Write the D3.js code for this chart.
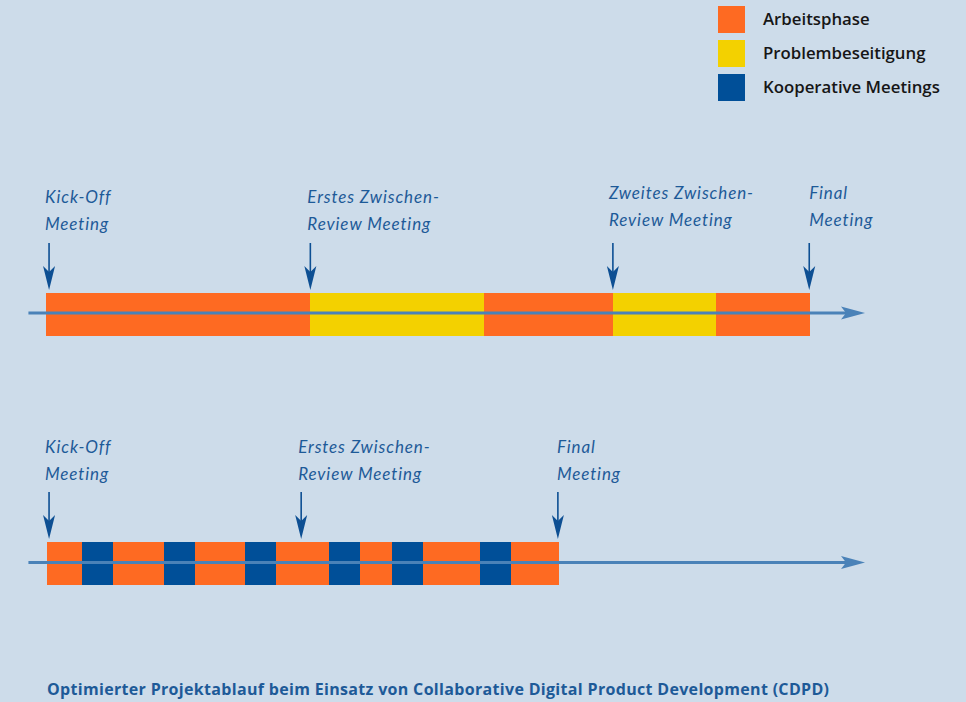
<!DOCTYPE html>
<html><head><meta charset="utf-8">
<script src="https://cdn.jsdelivr.net/npm/d3@7"></script>
<style>
html,body{margin:0;padding:0;background:#cddcea;}
svg{display:block;}
</style></head>
<body>
<svg id="chart" width="966" height="702"></svg>
<script>
// ---- data (time units along the project axis) ----
const legendItems = ["Arbeitsphase", "Problembeseitigung", "Kooperative Meetings"];
const legendKeys = ["work", "fix", "meet"];

// conventional process
const topPhases = ["work", "fix", "work", "fix", "work"];
const topBounds = [0, 34.6, 57.3, 74.2, 87.7, 100];
const topMilestones = [0.4, 34.6, 74.2, 99.9];
const topLabels = [["Kick-Off", "Meeting"], ["Erstes Zwischen-", "Review Meeting"], ["Zweites Zwischen-", "Review Meeting"], ["Final", "Meeting"]];

// CDPD process
const bottomPhases = ["work", "meet", "work", "meet", "work", "meet", "work", "meet", "work", "meet", "work", "meet", "work"];
const bottomBounds = [0.1, 4.7, 8.8, 15.4, 19.5, 26.0, 30.1, 37.0, 41.1, 45.3, 49.3, 56.8, 60.9, 67.1];
const bottomMilestones = [0.4, 33.4, 67.0];
const bottomLabels = [["Kick-Off", "Meeting"], ["Erstes Zwischen-", "Review Meeting"], ["Final", "Meeting"]];

const axisDomain = [-2.3, 107.2];
const title = "Optimierter Projektablauf beim Einsatz von Collaborative Digital Product Development (CDPD)";

// ---- styling ----
const colors = {work: "#fe6a22", fix: "#f3d100", meet: "#004f98"};
const axisColor = "#4a82b8";
const labelColor = "#1d5a98";
const arrowColor = "#0d4f93";

const svg = d3.select("#chart");
const x = d3.scaleLinear().domain([0, 100]).range([46, 810]);
const color = d3.scaleOrdinal().domain(legendKeys).range(legendKeys.map(k => colors[k]));

// legend
const leg = svg.append("g");
const ly = d3.scalePoint().domain(legendItems).range([19.5, 87.5]);
legendItems.forEach((name, i) => {
  leg.append("rect").attr("x", 718).attr("y", ly(name) - 13.5).attr("width", 27).attr("height", 27)
    .attr("fill", color(legendKeys[i]));
  leg.append("text").attr("x", 763).attr("y", ly(name) + 5.5)
    .attr("font-family", "'Open Sans', sans-serif").attr("font-weight", 600).attr("font-size", 16.8)
    .attr("fill", "#161616").text(name);
});

function drawRow(cfg) {
  const {phases, bounds, milestones, labels, axisY, barTop, barH, arrowTop, arrowTip, labelY, dy, dx} = cfg;
  const g = svg.append("g");
  const segs = phases.map((p, i) => ({p, s: bounds[i], e: bounds[i + 1]}));
  g.selectAll("rect.seg").data(segs).join("rect").attr("class", "seg")
    .attr("x", d => x(d.s)).attr("y", barTop)
    .attr("width", d => x(d.e) - x(d.s)).attr("height", barH)
    .attr("fill", d => color(d.p)).attr("shape-rendering", "crispEdges");
  // axis
  const x0 = x(axisDomain[0]), x1 = x(axisDomain[1]);
  g.append("line").attr("x1", x0).attr("x2", x1 - 18).attr("y1", axisY).attr("y2", axisY)
    .attr("stroke", axisColor).attr("stroke-width", 3);
  g.append("path").attr("d", `M${x1},${axisY} L${x1 - 24},${axisY - 6.5} L${x1 - 19},${axisY} L${x1 - 24},${axisY + 6.5} Z`)
    .attr("fill", axisColor);
  // milestones
  milestones.forEach((m, i) => {
    const mx = x(m);
    g.append("line").attr("x1", mx).attr("x2", mx).attr("y1", arrowTop).attr("y2", arrowTip - 16)
      .attr("stroke", arrowColor).attr("stroke-width", 1.6);
    g.append("path").attr("d", `M${mx},${arrowTip} L${mx - 6},${arrowTip - 24} L${mx},${arrowTip - 18} L${mx + 6},${arrowTip - 24} Z`)
      .attr("fill", arrowColor);
    const t = g.append("text").attr("font-family", "Lato, sans-serif").attr("font-style", "italic")
      .attr("font-size", 17).attr("fill", labelColor).attr("letter-spacing", 0.9);
    labels[i].forEach((ln, j) => {
      t.append("tspan").attr("x", mx + dx[i]).attr("y", labelY + dy[i] + j * 27).text(ln);
    });
  });
}

drawRow({phases: topPhases, bounds: topBounds, milestones: topMilestones, labels: topLabels,
  axisY: 313, barTop: 293, barH: 43, arrowTop: 243, arrowTip: 290, labelY: 203,
  dy: [0, 0, -4, -4], dx: [-4, -3, -4, 0]});
drawRow({phases: bottomPhases, bounds: bottomBounds, milestones: bottomMilestones, labels: bottomLabels,
  axisY: 562.5, barTop: 542, barH: 43, arrowTop: 492, arrowTip: 539, labelY: 453,
  dy: [0, 0, 0], dx: [-4, -3, -1]});

// caption
svg.append("text").attr("x", 47).attr("y", 695)
  .attr("font-family", "'Open Sans', sans-serif").attr("font-weight", 700).attr("font-size", 16)
  .attr("fill", "#1d5a98").attr("textLength", 782).attr("lengthAdjust", "spacing").text(title);
</script>
</body></html>
